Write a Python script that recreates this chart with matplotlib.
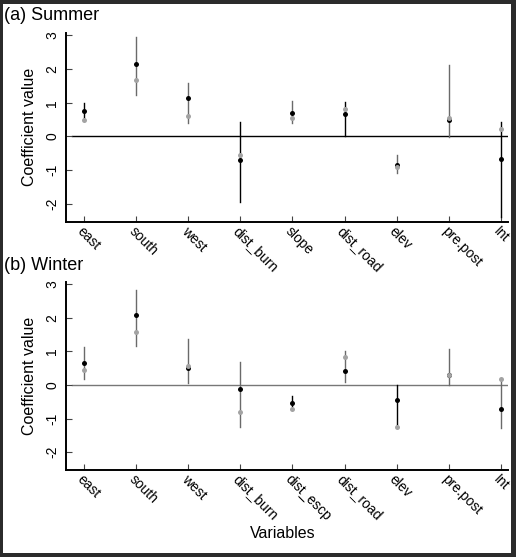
"""Coefficient plots for summer and winter models, two panels stacked."""

import matplotlib
matplotlib.use('Agg')
import matplotlib.pyplot as plt
from matplotlib.patches import Rectangle

plt.rcParams['font.family'] = ['Liberation Sans', 'DejaVu Sans']

## Panel (a) Summer
vars_a = ['east', 'south', 'west', 'dist_burn', 'slope', 'dist_road',
          'elev', 'pre.post', 'Int']
black_a = [0.75, 2.15, 1.15, -0.70, 0.70, 0.68, -0.84, 0.50, -0.66]
gray_a = [0.49, 1.69, 0.60, -0.55, 0.56, 0.82, -0.92, 0.55, 0.23]
lo_a = [0.55, 1.22, 0.40, -1.94, 0.39, 0.00, -1.08, -0.02, -2.39]
hi_a = [0.98, 2.96, 1.60, 0.42, 1.05, 1.02, -0.56, 2.12, 0.43]
ci_black_a = [True, False, False, True, False, True, False, False, True]

## Panel (b) Winter
vars_b = ['east', 'south', 'west', 'dist_burn', 'dist_escp', 'dist_road',
          'elev', 'pre.post', 'Int']
black_b = [0.65, 2.07, 0.50, -0.13, -0.55, 0.42, -0.46, 0.30, -0.72]
gray_b = [0.45, 1.56, 0.56, -0.81, -0.73, 0.84, -1.26, 0.31, 0.18]
lo_b = [0.18, 1.16, 0.05, -1.26, -0.64, 0.08, -1.26, 0.00, -1.29]
hi_b = [1.12, 2.82, 1.37, 0.69, -0.33, 1.00, 0.00, 1.07, 0.18]
ci_black_b = [False, False, False, False, True, False, True, False, False]

yticks = [-2, -1, 0, 1, 2, 3]

W, H = 516, 557
fig = plt.figure(figsize=(W / 100, H / 100), dpi=100)
fig.patch.set_facecolor('#2b2b2b')
fig.add_artist(Rectangle((3 / W, 4 / H), 508 / W, 549 / H,
                         transform=fig.transFigure, facecolor='white',
                         edgecolor='none', zorder=-1))

DARK = '#6a6a6a'
LIGHT = '#a3a3a3'


def panel(rect, names, black, gray, lo, hi, ci_black, zero_col):
    ax = fig.add_axes(rect)
    x = list(range(1, len(names) + 1))
    ax.axhline(0, xmin=0.014, xmax=1, color=zero_col, lw=1.0, zorder=1)
    for i in range(len(x)):
        col = 'black' if ci_black[i] else DARK
        ax.plot([x[i], x[i]], [lo[i], hi[i]], color=col, lw=1.0, zorder=2)
    ax.plot(x, black, 'o', color='black', ms=3.6, mew=0, zorder=3)
    ax.plot(x, gray, 'o', color=LIGHT, ms=3.6, mew=0, zorder=4)

    ax.set_xlim(0.65, 9.14)
    ax.set_ylim(-2.53, 3.07)
    ax.set_xticks(x)
    ax.set_xticklabels(names)
    ax.set_yticks(yticks)
    ax.set_yticklabels([str(v) for v in yticks])

    for s in ['top', 'right']:
        ax.spines[s].set_visible(False)
    for s in ['left', 'bottom']:
        ax.spines[s].set_linewidth(1.4)
    ax.tick_params(direction='in', length=4, width=0.8, color='#444444',
                   labelsize=10)
    ax.tick_params(axis='y', pad=5)
    ax.tick_params(axis='x', pad=1.5)
    plt.setp(ax.get_yticklabels(), rotation=90, va='center')
    plt.setp(ax.get_xticklabels(), rotation=-45, ha='left', va='top',
             rotation_mode='anchor')
    ax.set_ylabel('Coefficient value', fontsize=11.5, labelpad=6)
    return ax


left = 66 / W
width = (508 - 66) / W
panel([left, 1 - 221.7 / H, width, (221.7 - 33) / H],
      vars_a, black_a, gray_a, lo_a, hi_a, ci_black_a, 'black')
panel([left, 1 - 470 / H, width, (470 - 281.7) / H],
      vars_b, black_b, gray_b, lo_b, hi_b, ci_black_b, '#777777')

## Panel titles and shared x label
fig.text(4 / W, 1 - 16 / H, '(a) Summer', fontsize=13, va='center')
fig.text(4 / W, 1 - 265 / H, '(b) Winter', fontsize=13, va='center')
fig.text(283 / W, 1 - 533 / H, 'Variables', fontsize=11.5,
         ha='center', va='center')

fig.savefig('out.png', dpi=100)
